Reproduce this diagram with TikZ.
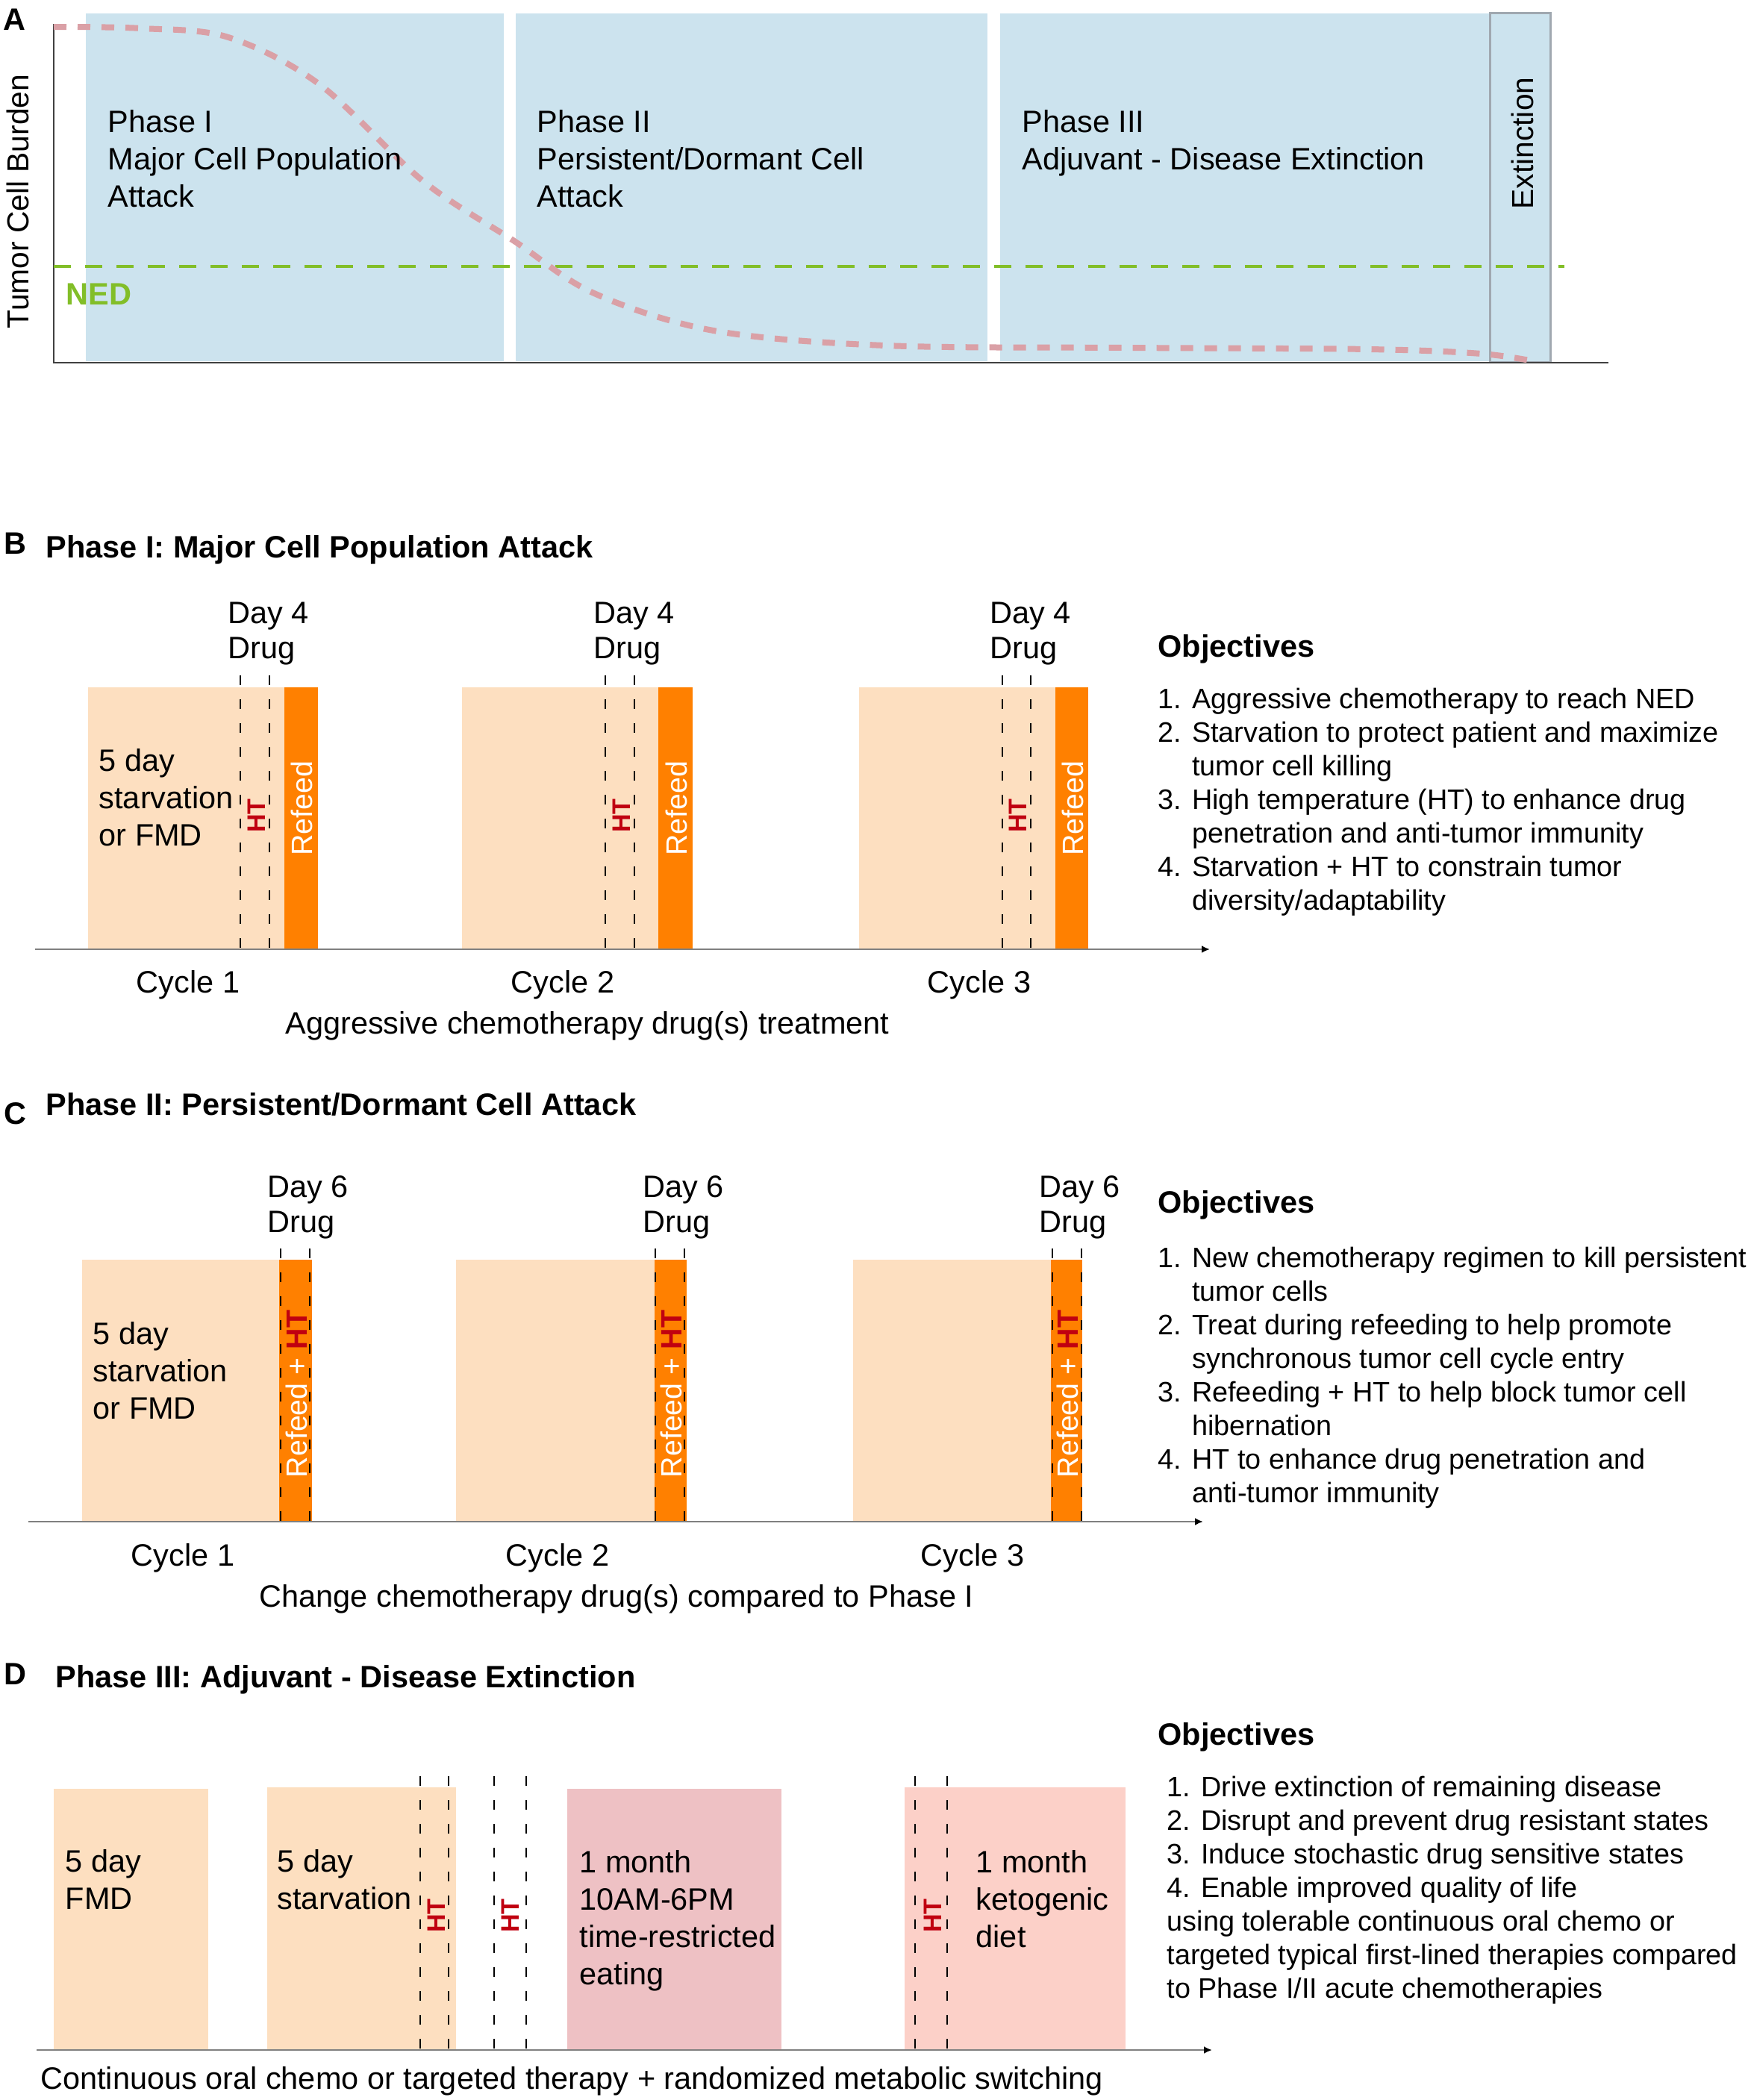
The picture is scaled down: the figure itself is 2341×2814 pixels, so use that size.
\documentclass[tikz,border=0pt]{standalone}
\usepackage{fontspec}
\setmainfont{Liberation Sans}
\usetikzlibrary{arrows.meta}
\definecolor{phaseblue}{RGB}{204,227,238}
\definecolor{nedgreen}{RGB}{130,190,40}
\definecolor{curvepink}{RGB}{218,160,166}
\definecolor{lightorange}{RGB}{253,223,192}
\definecolor{refeedorange}{RGB}{255,128,0}
\definecolor{htred}{RGB}{192,0,16}
\definecolor{trepink}{RGB}{238,193,196}
\definecolor{ketosalmon}{RGB}{252,208,200}
\definecolor{axisgray}{RGB}{128,128,128}
\definecolor{extgray}{RGB}{160,168,176}
\begin{document}
\begin{tikzpicture}[x=0.1mm,y=-0.1mm]
      \tikzset{txt/.style={inner sep=0pt, align=left, anchor=base west, font=\fontsize{11.8}{14.2}\selectfont},
      	headtxt/.style={inner sep=0pt, anchor=base west, font=\fontsize{11.8}{14.2}\selectfont\bfseries},
      	daytxt/.style={inner sep=0pt, align=left, anchor=base west, font=\fontsize{11.8}{13.1}\selectfont},
      	cyctxt/.style={inner sep=0pt, anchor=base, font=\fontsize{11.8}{14.2}\selectfont},
      	objtxt/.style={inner sep=0pt, align=left, anchor=base west, font=\fontsize{10.75}{12.8}\selectfont},
      	sidetxt/.style={inner sep=0pt, rotate=90, anchor=base, font=\fontsize{11.6}{14}\selectfont},
      	refeedtag/.style={inner sep=0pt, rotate=90, anchor=base, text=white, font=\fontsize{11.2}{13}\selectfont},
      	httag/.style={inner sep=0pt, rotate=90, anchor=base, text=htred, font=\fontsize{9.7}{11}\selectfont\bfseries},
      	drugline/.style={draw=black, line width=0.2mm, dash pattern=on 1.3mm off 1.9mm},
      	timeline/.style={draw=axisgray, line width=0.25mm, -{Latex[length=1.1mm, width=1mm, color=black]}}}
      \useasboundingbox (0,0) rectangle (2341,2814);
%% Panel A
	%phase blocks
      	\fill[phaseblue] (115,18) rectangle (675,484);
      	\fill[phaseblue] (691,18) rectangle (1323,484);
      	\fill[phaseblue] (1340,18) rectangle (1996,484);
      	\draw[extgray, fill=phaseblue, line width=0.3mm] (1996,17) rectangle (2077,485);
	%axes
      	\coordinate (aTop) at (72,32);
      	\coordinate (aOrg) at (72,486);
      	\coordinate (aEnd) at (2155,486);
      	\draw[black!75, line width=0.2mm] (aTop) -- (aOrg) -- (aEnd);
      	\draw[nedgreen, line width=0.33mm, dash pattern=on 2.3mm off 1.9mm] (72,357) -- (2096,357);
      	\draw[curvepink, line width=0.8mm, dash pattern=on 1.7mm off 1.5mm] plot[smooth, tension=0.55] coordinates {(72,36) (190,38) (306,50) (428,113) (566,242) (689,323) (796,393) (956,443) (1186,463) (1515,466) (1834,468) (1985,474) (2060,485)};
	%labels (multi-line nodes sit on their last baseline)
      	\node[headtxt] (lblA) at (4,40) {A};
      	\node[sidetxt] (burden) at (38,270) {Tumor Cell Burden};
      	\node[sidetxt] (extinct) at (2054,192) {Extinction};
      	\node[txt] (ph1) at (144,277) {Phase I\\Major Cell Population\\Attack};
      	\node[txt] (ph2) at (719,277) {Phase II\\Persistent/Dormant Cell\\Attack};
      	\node[txt] (ph3) at (1369,227) {Phase III\\Adjuvant - Disease Extinction};
      	\node[headtxt, text=nedgreen] (ned) at (88,408) {NED};

%% Panel B
      	\node[headtxt] (lblB) at (5,742) {B};
      	\node[headtxt] (titB) at (61,747) {Phase I: Major Cell Population Attack};
	%cycles
      	\fill[lightorange] (118,921) rectangle (381,1272);
      	\fill[refeedorange] (381,921) rectangle (426,1272);
      	\fill[lightorange] (619,921) rectangle (882,1272);
      	\fill[refeedorange] (882,921) rectangle (928,1272);
      	\fill[lightorange] (1151,921) rectangle (1414,1272);
      	\fill[refeedorange] (1414,921) rectangle (1458,1272);
      	\draw[drugline] (322,905) -- (322,1272);
      	\draw[drugline] (361,905) -- (361,1272);
      	\draw[drugline] (811,905) -- (811,1272);
      	\draw[drugline] (850,905) -- (850,1272);
      	\draw[drugline] (1343,905) -- (1343,1272);
      	\draw[drugline] (1381,905) -- (1381,1272);
      	\coordinate (bStart) at (47,1272);
      	\coordinate (bEnd) at (1621,1272);
      	\draw[timeline] (bStart) -- (bEnd);
	%texts
      	\node[daytxt] (dayB1) at (305,882) {Day 4\\Drug};
      	\node[daytxt] (dayB2) at (795,882) {Day 4\\Drug};
      	\node[daytxt] (dayB3) at (1326,882) {Day 4\\Drug};
      	\node[txt] (fastB1) at (132,1133) {5 day\\starvation\\or FMD};
      	\node[httag] (htB1) at (355,1093) {HT};
      	\node[httag] (htB2) at (844,1093) {HT};
      	\node[httag] (htB3) at (1375,1093) {HT};
      	\node[refeedtag] (rfB1) at (418,1083) {Refeed};
      	\node[refeedtag] (rfB2) at (920,1083) {Refeed};
      	\node[refeedtag] (rfB3) at (1451,1083) {Refeed};
      	\node[cyctxt] (cycB1) at (252,1330) {Cycle 1};
      	\node[cyctxt] (cycB2) at (754,1330) {Cycle 2};
      	\node[cyctxt] (cycB3) at (1312,1330) {Cycle 3};
      	\node[cyctxt] (treatB) at (787,1385) {Aggressive chemotherapy drug(s) treatment};
	%objectives
      	\node[headtxt] (objB) at (1551,880) {Objectives};
      	\node[objtxt] (listB) at (1551,1219) {1. Aggressive chemotherapy to reach NED\\2. Starvation to protect patient and maximize\\\hphantom{2. }tumor cell killing\\3. High temperature (HT) to enhance drug\\\hphantom{3. }penetration and anti-tumor immunity\\4. Starvation + HT to constrain tumor\\\hphantom{4. }diversity/adaptability};

%% Panel C
      	\node[headtxt] (lblC) at (5,1506) {C};
      	\node[headtxt] (titC) at (61,1494) {Phase II: Persistent/Dormant Cell Attack};
	%cycles
      	\fill[lightorange] (110,1688) rectangle (374,2039);
      	\fill[refeedorange] (374,1688) rectangle (418,2039);
      	\fill[lightorange] (611,1688) rectangle (877,2039);
      	\fill[refeedorange] (877,1688) rectangle (920,2039);
      	\fill[lightorange] (1143,1688) rectangle (1408,2039);
      	\fill[refeedorange] (1408,1688) rectangle (1450,2039);
      	\draw[drugline] (376,1673) -- (376,2039);
      	\draw[drugline] (415,1673) -- (415,2039);
      	\draw[drugline] (878,1673) -- (878,2039);
      	\draw[drugline] (917,1673) -- (917,2039);
      	\draw[drugline] (1410,1673) -- (1410,2039);
      	\draw[drugline] (1449,1673) -- (1449,2039);
      	\coordinate (cStart) at (38,2039);
      	\coordinate (cEnd) at (1612,2039);
      	\draw[timeline] (cStart) -- (cEnd);
	%texts
      	\node[daytxt] (dayC1) at (358,1651) {Day 6\\Drug};
      	\node[daytxt] (dayC2) at (861,1651) {Day 6\\Drug};
      	\node[daytxt] (dayC3) at (1392,1651) {Day 6\\Drug};
      	\node[txt] (fastC1) at (124,1901) {5 day\\starvation\\or FMD};
      	\node[refeedtag] (rfC1) at (411,1868) {Refeed + \textcolor{htred}{\bfseries HT}};
      	\node[refeedtag] (rfC2) at (913,1868) {Refeed + \textcolor{htred}{\bfseries HT}};
      	\node[refeedtag] (rfC3) at (1444,1868) {Refeed + \textcolor{htred}{\bfseries HT}};
      	\node[cyctxt] (cycC1) at (245,2098) {Cycle 1};
      	\node[cyctxt] (cycC2) at (747,2098) {Cycle 2};
      	\node[cyctxt] (cycC3) at (1303,2098) {Cycle 3};
      	\node[cyctxt] (treatC) at (826,2153) {Change chemotherapy drug(s) compared to Phase I};
	%objectives
      	\node[headtxt] (objC) at (1551,1625) {Objectives};
      	\node[objtxt] (listC) at (1551,2013) {1. New chemotherapy regimen to kill persistent\\\hphantom{1. }tumor cells\\2. Treat during refeeding to help promote\\\hphantom{2. }synchronous tumor cell cycle entry\\3. Refeeding + HT to help block tumor cell\\\hphantom{3. }hibernation\\4. HT to enhance drug penetration and\\\hphantom{4. }anti-tumor immunity};

%% Panel D
      	\node[headtxt] (lblD) at (5,2257) {D};
      	\node[headtxt] (titD) at (74,2261) {Phase III: Adjuvant - Disease Extinction};
	%diet blocks
      	\fill[lightorange] (72,2397) rectangle (279,2747);
      	\fill[lightorange] (358,2395) rectangle (611,2747);
      	\fill[trepink] (760,2397) rectangle (1047,2747);
      	\fill[ketosalmon] (1212,2395) rectangle (1508,2747);
      	\draw[drugline] (563,2380) -- (563,2747);
      	\draw[drugline] (601,2380) -- (601,2747);
      	\draw[drugline] (662,2380) -- (662,2747);
      	\draw[drugline] (705,2380) -- (705,2747);
      	\draw[drugline] (1226,2380) -- (1226,2747);
      	\draw[drugline] (1269,2380) -- (1269,2747);
      	\coordinate (dStart) at (49,2747);
      	\coordinate (dEnd) at (1624,2747);
      	\draw[timeline] (dStart) -- (dEnd);
	%texts
      	\node[txt] (fmdD) at (87,2558) {5 day\\FMD};
      	\node[txt] (starveD) at (371,2558) {5 day\\starvation};
      	\node[txt] (treD) at (776,2659) {1 month\\10AM-6PM\\time-restricted\\eating};
      	\node[txt] (ketoD) at (1307,2609) {1 month\\ketogenic\\diet};
      	\node[httag] (htD1) at (596,2567) {HT};
      	\node[httag] (htD2) at (695,2567) {HT};
      	\node[httag] (htD3) at (1261,2567) {HT};
      	\node[cyctxt] (contD) at (766,2799) {Continuous oral chemo or targeted therapy + randomized metabolic switching};
	%objectives
      	\node[headtxt] (objD) at (1551,2338) {Objectives};
      	\node[objtxt] (listD) at (1563,2677) {1. Drive extinction of remaining disease\\2. Disrupt and prevent drug resistant states\\3. Induce stochastic drug sensitive states\\4. Enable improved quality of life\\using tolerable continuous oral chemo or\\targeted typical first-lined therapies compared\\to Phase I/II acute chemotherapies};
\end{tikzpicture}
\end{document}
